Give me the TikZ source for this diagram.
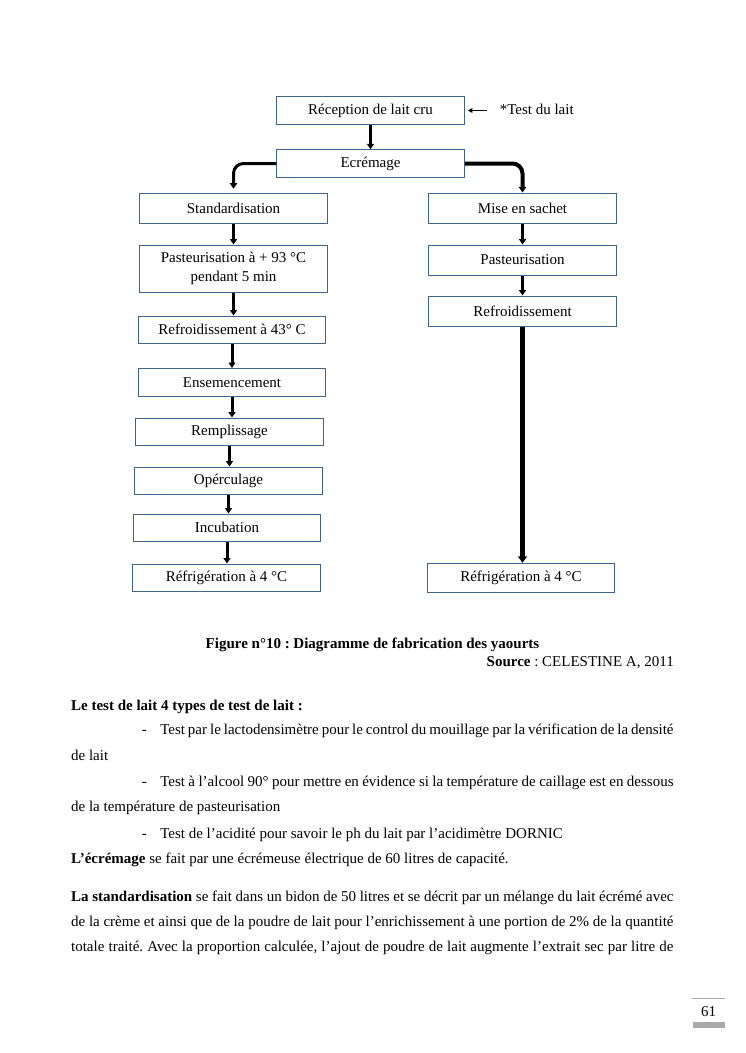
\documentclass[tikz,border=0pt]{standalone}
\usepackage{fontspec}
\setmainfont{Liberation Serif}
\usetikzlibrary{arrows.meta, positioning}
\definecolor{boxcolor}{RGB}{65, 100, 140}
\definecolor{arrowcolor}{RGB}{0, 0, 0}
\definecolor{pagegray}{RGB}{170, 170, 170}
\frenchspacing
\tikzset{
    % Base styles
    basenode/.style={
        draw=boxcolor, line width=0.8pt, align=center,
        font=\fontsize{12pt}{15pt}\selectfont,
        minimum width=150pt, minimum height=22pt, inner sep=2pt
    },
    % Specific node types
    stepbox/.style={basenode},
    tallbox/.style={basenode, minimum height=24pt},
    % Arrows
    myarrow/.style={-{Triangle[width=5.6pt, length=4.4pt]}, line width=2.4pt, arrowcolor},
    bendarrow/.style={-{Triangle[width=6pt, length=4.6pt]}, line width=2.4pt, arrowcolor, rounded corners=8pt},
    longarrow/.style={-{Triangle[width=7pt, length=5.2pt]}, line width=4pt, arrowcolor},
    thinarrow/.style={-{Triangle[width=3.6pt, length=3.6pt]}, line width=0.8pt, arrowcolor},
    % Labels
    plaintext/.style={inner sep=0pt, font=\fontsize{12pt}{14pt}\selectfont},
    bodytext/.style={
        anchor=base west, inner sep=0pt, text width=481.9pt, align=justify,
        font=\fontsize{12pt}{20.6pt}\selectfont
    },
}

\begin{document}
\begin{tikzpicture}[x=0.8pt, y=-0.8pt]

\fill[white] (0,0) rectangle (745,1053);
\useasboundingbox (0,0) rectangle (745,1053);

% Nodes
\node (reception) [stepbox] at (370.5,110.5) {Réception de lait cru};
\node (ecremage) [stepbox, below=19.6pt of reception] {Ecrémage};

% Left branch
\node (standard) [tallbox] at (233.5,208) {Standardisation};
\node (pasteur) [stepbox, minimum height=37.6pt, below=16.8pt of standard] {
    Pasteurisation à + 93 °C\\
    pendant 5 min
};
\node (refroid) [stepbox, below=18.4pt of pasteur, xshift=-1.2pt] {Refroidissement à 43° C};
\node (ensem) [stepbox, below=19.2pt of refroid] {Ensemencement};
\node (rempli) [stepbox, below=16.8pt of ensem, xshift=-2pt] {Remplissage};
\node (opercul) [stepbox, below=16.4pt of rempli, xshift=-0.8pt] {Opérculage};
\node (incub) [stepbox, below=14.8pt of opercul, xshift=-1.2pt] {Incubation};
\node (refrig) [stepbox, below=17.2pt of incub, xshift=-0.4pt] {Réfrigération à 4 °C};

% Right branch
\node (sachet) [tallbox] at (522.5,208) {Mise en sachet};
\node (pasteurb) [tallbox, below=16.8pt of sachet] {Pasteurisation};
\node (refroidb) [tallbox, below=16pt of pasteurb] {Refroidissement};
\node (refrigb) [stepbox, minimum height=23pt, xshift=-1.2pt] at (refroidb |- refrig) {Réfrigération à 4 °C};

% Side annotation
\node (test) [plaintext, anchor=base west] at (499.5,114.3) {*Test du lait};

% Arrows
\draw[thinarrow] ([xshift=-10pt]test.west |- reception.east) -- ([xshift=2.4pt]reception.east);
\draw[myarrow] (reception.south) -- (reception.south |- ecremage.north);
\draw[bendarrow, shorten >=3pt] (ecremage.west) -| (standard.north);
\draw[bendarrow, line width=3.2pt] (ecremage.east) -| (sachet.north);
\draw[myarrow] (standard.south) -- (standard.south |- pasteur.north);
\draw[myarrow] (pasteur.south) -- (pasteur.south |- refroid.north);
\draw[myarrow] (refroid.south) -- (refroid.south |- ensem.north);
\draw[myarrow] (ensem.south) -- (ensem.south |- rempli.north);
\draw[myarrow] (rempli.south) -- (rempli.south |- opercul.north);
\draw[myarrow] (opercul.south) -- (opercul.south |- incub.north);
\draw[myarrow] (incub.south) -- (incub.south |- refrig.north);
\draw[myarrow] (sachet.south) -- (sachet.south |- pasteurb.north);
\draw[myarrow] (pasteurb.south) -- (pasteurb.south |- refroidb.north);
\draw[longarrow] (refroidb.south) -- (refroidb.south |- refrigb.north);

% Caption
\node (caption) [plaintext, anchor=base] at (372.5,648) {\bfseries Figure n°10 : Diagramme de fabrication des yaourts};
\node (source) [plaintext, anchor=base east] at (674,666) {\textbf{Source} : CELESTINE A, 2011};

% Body text
\node (testhead) [bodytext] at (70.9,710) {\textbf{Le test de lait 4 types de test de lait :}};
\node (itemone) [bodytext] at (70.9,734.3) {%
    \hspace*{56.6pt}\makebox[14.7pt][l]{-}Test par le lactodensimètre pour le control du mouillage par la vérification de la densité\linebreak
    de lait};
\node (itemtwo) [bodytext] at (70.9,786) {%
    \hspace*{56.6pt}\makebox[14.7pt][l]{-}Test à l’alcool 90° pour mettre en évidence si la température de caillage est en dessous\linebreak
    de la température de pasteurisation};
\node (itemthree) [bodytext] at (70.9,838.3) {%
    \hspace*{56.6pt}\makebox[14.7pt][l]{-}Test de l’acidité pour savoir le ph du lait par l’acidimètre DORNIC};
\node (ecremtext) [bodytext] at (70.9,863.3) {%
    \textbf{L’écrémage} se fait par une écrémeuse électrique de 60 litres de capacité.};
\node (standtext) [bodytext, font=\fontsize{12pt}{20pt}\selectfont] at (70.9,901) {%
    \textbf{La standardisation} se fait dans un bidon de 50 litres et se décrit par un mélange du lait écrémé avec\linebreak
    de la crème et ainsi que de la poudre de lait pour l’enrichissement à une portion de 2\% de la quantité\linebreak
    totale traité. Avec la proportion calculée, l’ajout de poudre de lait augmente l’extrait sec par litre de\parfillskip=0pt\par};

% Page number
\node (pagenum) [plaintext, anchor=base] at (708.5,1016) {61};
\draw[pagegray, line width=0.6pt] (692,998) -- (725,998);
\fill[pagegray] (693,1022) rectangle (725,1028);

\end{tikzpicture}
\end{document}
